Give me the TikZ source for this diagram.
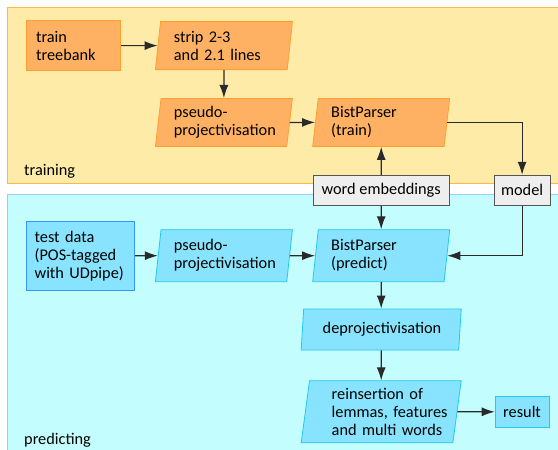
\documentclass[tikz,border=0pt]{standalone}
\usepackage{fontspec}
\setmainfont{Carlito}
\usetikzlibrary{matrix,shapes,arrows.meta,positioning,calc}

\definecolor{trainbg}{HTML}{FFEBA8}
\definecolor{trainedge}{HTML}{FFB84D}
\definecolor{trainfill}{HTML}{FFB163}
\definecolor{traindraw}{HTML}{FF9F30}
\definecolor{predbg}{HTML}{C4FDFD}
\definecolor{prededge}{HTML}{99CCFF}
\definecolor{predfill}{HTML}{88E4FE}
\definecolor{preddraw}{HTML}{22C8F0}
\definecolor{datadraw}{HTML}{3399FF}
\definecolor{extfill}{HTML}{EEEEEE}
\definecolor{extdraw}{HTML}{555555}
\definecolor{flow}{HTML}{2A2A2A}

\tikzset{
	every node/.style={font=\fontsize{16.3}{18}\selectfont, text=black},
	stepshape/.style={trapezium, trapezium left angle=80, trapezium right angle=100,
		trapezium stretches body, minimum width=137pt, minimum height=48pt,
		text width=100pt, align=left, line width=0.8pt},
	trainstep/.style={stepshape, fill=trainfill, draw=traindraw},
	predstep/.style={stepshape, fill=predfill, draw=preddraw},
	trainbox/.style={rectangle, anchor=west, fill=trainfill, draw=traindraw, line width=0.8pt,
		minimum height=50pt, text width=75pt, inner xsep=9.5pt, align=left},
	databox/.style={rectangle, anchor=west, fill=predfill, draw=datadraw, line width=0.8pt,
		minimum height=69pt, text width=92pt, inner xsep=8pt, align=left},
	predbox/.style={rectangle, fill=predfill, draw=preddraw, line width=0.8pt,
		minimum width=54pt, minimum height=31pt},
	extbox/.style={rectangle, fill=extfill, draw=extdraw, line width=1pt, minimum height=30pt},
	flowline/.style={draw=flow, line width=1.2pt, -{Latex[length=13pt,width=9pt]}}
}

\begin{document}
\begin{tikzpicture}[x=1pt,y=-1pt]
		\useasboundingbox (0,0) rectangle (558,450);
		\filldraw[fill=trainbg, draw=trainedge, line width=1pt] (7,7) rectangle (570,183);
		\filldraw[fill=predbg, draw=prededge, line width=1pt] (7,194) rectangle (570,460);
		\node[anchor=base west, inner sep=0pt] (traininglabel) at (24,175) {training};
		\node[anchor=base west, inner sep=0pt] (predictinglabel) at (24,444) {predicting};

		\matrix (m) at (26,20) [matrix of nodes, anchor=north west, inner sep=0pt,
					column sep=8pt, row sep=15pt, nodes={anchor=center} ]
		{
		|[trainbox]| {train\\treebank} &[12pt] |[trainstep]| {strip 2-3\\and 2.1 lines} & &[24pt] \\[12pt]
		& |[trainstep]| {pseudo-\\projectivisation} & |[trainstep]| {BistParser\\(train)} & \\[13pt]
		& & |[extbox, minimum width=136pt]| word embeddings & |[extbox, minimum width=56pt]| model \\
		|[databox]| {test data\\(POS-tagged\\with UDpipe)} & |[predstep, minimum height=52pt]| {pseudo-\\projectivisation}
			& |[predstep, minimum height=52pt]| {BistParser\\(predict)} & \\[3pt]
		& & |[predstep, minimum width=160pt, minimum height=41pt, text width=117pt]| deprojectivisation & \\[15pt]
		& & |[predstep, minimum width=160pt, minimum height=62pt, text width=123pt]| {\hspace*{12pt}\mbox{reinsertion of}\\\hspace*{12pt}\mbox{lemmas, features}\\\hspace*{12pt}\mbox{and multi words}}
			& |[predbox]| result \\
		};

		\draw[flowline] (m-1-1) -- (m-1-2);
		\draw[flowline] (m-1-2) -- (m-2-2);
		\draw[flowline] (m-2-2) -- (m-2-3);
		\draw[flowline] (m-2-3) -| (m-3-4);
		\draw[flowline] (m-3-3) -- (m-2-3);
		\draw[flowline] (m-3-3) -- (m-4-3);
		\draw[flowline] (m-3-4) |- (m-4-3);
		\draw[flowline] (m-4-1) -- (m-4-2);
		\draw[flowline] (m-4-2) -- (m-4-3);
		\draw[flowline] (m-4-3) -- (m-5-3);
		\draw[flowline] (m-5-3) -- (m-6-3);
		\draw[flowline] (m-6-3) -- (m-6-4);
	\end{tikzpicture}
\end{document}
